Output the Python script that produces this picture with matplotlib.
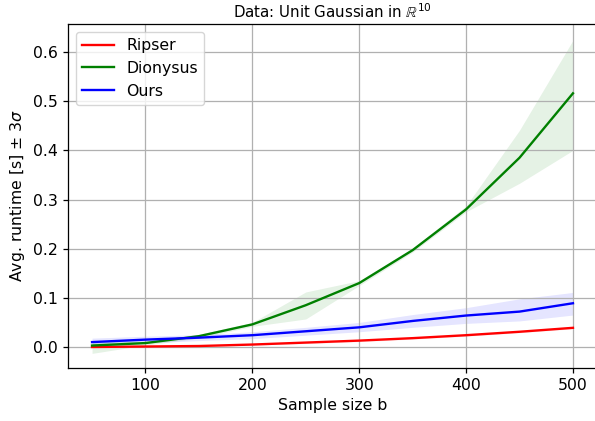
import matplotlib
matplotlib.use("Agg")
import matplotlib.pyplot as plt
import numpy as np

sizes = [50, 100, 150, 200, 250, 300, 350, 400, 450, 500]

ripser_mean = [0.000, 0.001, 0.002, 0.005, 0.009, 0.013, 0.018, 0.024, 0.031, 0.039]
ripser_lo   = [-0.001, 0.000, 0.001, 0.004, 0.007, 0.011, 0.016, 0.022, 0.029, 0.037]
ripser_hi   = [0.001, 0.002, 0.003, 0.006, 0.011, 0.015, 0.020, 0.026, 0.033, 0.041]

dionysus_mean = [0.003, 0.008, 0.022, 0.046, 0.085, 0.130, 0.197, 0.280, 0.385, 0.516]
dionysus_lo   = [-0.013, 0.004, 0.018, 0.042, 0.057, 0.125, 0.193, 0.275, 0.333, 0.400]
dionysus_hi   = [0.012, 0.012, 0.026, 0.050, 0.112, 0.135, 0.201, 0.287, 0.441, 0.624]

ours_mean = [0.010, 0.015, 0.019, 0.024, 0.032, 0.040, 0.053, 0.064, 0.072, 0.089]
ours_lo   = [0.002, 0.008, 0.013, 0.017, 0.024, 0.031, 0.040, 0.048, 0.053, 0.065]
ours_hi   = [0.018, 0.022, 0.025, 0.031, 0.040, 0.050, 0.066, 0.080, 0.098, 0.111]

s = 1.13
plt.rcParams.update({
    "font.size": 10 * s,
    "axes.linewidth": 0.8 * s,
    "xtick.major.size": 3.5 * s,
    "ytick.major.size": 3.5 * s,
    "xtick.major.width": 0.8 * s,
    "ytick.major.width": 0.8 * s,
})

fig = plt.figure(figsize=(5.95, 4.21), dpi=100)
ax = fig.add_axes([68/595, (421-367.5)/421, (597-68)/595, (367.5-24)/421])

for mean, lo, hi, color, label in [
    (ripser_mean, ripser_lo, ripser_hi, "red", "Ripser"),
    (dionysus_mean, dionysus_lo, dionysus_hi, "green", "Dionysus"),
    (ours_mean, ours_lo, ours_hi, "blue", "Ours"),
]:
    ax.plot(sizes, mean, color=color, lw=1.5 * s, label=label)
    ax.fill_between(sizes, lo, hi, color=color, alpha=0.1, lw=0)

ax.set_xlim(27.5, 522.5)
ax.set_ylim(-0.0417, 0.657)
ax.set_xticks([100, 200, 300, 400, 500])
ax.set_yticks([0.0, 0.1, 0.2, 0.3, 0.4, 0.5, 0.6])
ax.grid(True, color="#b0b0b0", lw=0.8 * s)
ax.set_xlabel("Sample size b")
ax.set_ylabel(r"Avg. runtime [s] $\pm$ 3$\sigma$")
ax.set_title(r"Data: Unit Gaussian in $\mathbb{R}^{10}$", fontsize=10.8, pad=4)
ax.legend(loc="upper left")

fig.savefig("out.png", dpi=100)
